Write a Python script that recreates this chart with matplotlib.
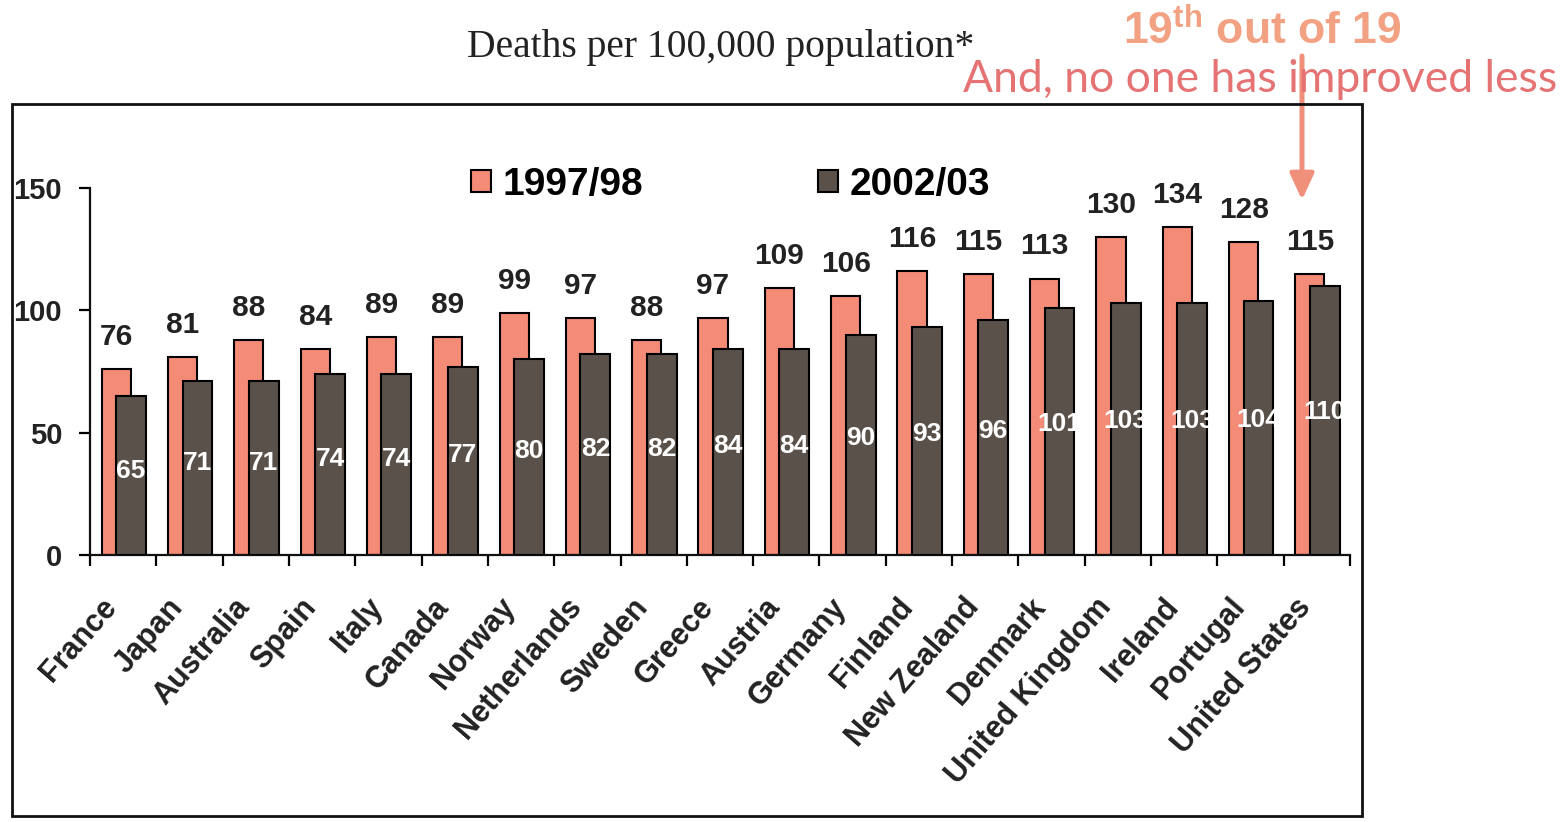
import numpy as np
import matplotlib
matplotlib.use("Agg")
import matplotlib.pyplot as plt
from matplotlib.patches import Rectangle, FancyArrowPatch
from matplotlib.transforms import ScaledTranslation

plt.rcParams['font.family'] = ['Liberation Sans', 'DejaVu Sans']
plt.rcParams['mathtext.fontset'] = 'custom'
plt.rcParams['mathtext.bf'] = 'Liberation Sans:bold'
plt.rcParams['mathtext.rm'] = 'Liberation Sans'

countries = ["France", "Japan", "Australia", "Spain", "Italy", "Canada", "Norway",
             "Netherlands", "Sweden", "Greece", "Austria", "Germany", "Finland",
             "New Zealand", "Denmark", "United Kingdom", "Ireland", "Portugal",
             "United States"]
v_1997 = [76, 81, 88, 84, 89, 89, 99, 97, 88, 97, 109, 106, 116, 115, 113, 130, 134, 128, 115]
v_2002 = [65, 71, 71, 74, 74, 77, 80, 82, 82, 84, 84, 90, 93, 96, 101, 103, 103, 104, 110]
series_labels = ["1997/98", "2002/03"]
y_ticks = [0, 50, 100, 150]

W, H = 1564, 822
salmon = '#F38B76'
dark = '#5A524A'

fig = plt.figure(figsize=(W / 100, H / 100), dpi=100)
ax = fig.add_axes([90 / W, 1 - 555 / H, (1350 - 90) / W, (555 - 188) / H])

x = np.arange(len(countries))
b1 = ax.bar(x - 0.105, v_1997, width=0.44, color=salmon, edgecolor='black', lw=1.5, zorder=2)
b2 = ax.bar(x + 0.12, v_2002, width=0.45, color=dark, edgecolor='black', lw=1.5, zorder=3)

for xi, v in zip(x, v_1997):
    ax.annotate(str(v), (xi - 0.105, v), xytext=(0, 13), textcoords='offset points',
                ha='center', va='bottom', fontsize=21.5, fontweight='bold', color='#222222',
                annotation_clip=False)
for xi, v in zip(x, v_2002):
    ax.text(xi + 0.12, 0.53 * v, str(v), ha='center', va='center', fontsize=19,
            fontweight='bold', color='white', zorder=4)

ax.set_xlim(-0.5, len(countries) - 0.5)
ax.set_ylim(0, 150)
for s in ['top', 'right']:
    ax.spines[s].set_visible(False)
for s in ['left', 'bottom']:
    ax.spines[s].set_linewidth(1.6)
    ax.spines[s].set_color('#111111')

ax.set_xticks(np.arange(-0.5, len(countries), 1))
ax.set_xticklabels([])
ax.tick_params(axis='x', which='major', direction='out', length=8, width=1.6)
ax.set_xticks(x, minor=True)
ax.set_xticklabels(countries, minor=True, rotation=49, ha='right', va='center',
                   rotation_mode='anchor', fontsize=22, fontweight='bold', color='#222222')
ax.tick_params(axis='x', which='minor', length=0, pad=34)
for lab in ax.get_xticklabels(minor=True):
    lab.set_transform(lab.get_transform() + ScaledTranslation(-8 / 72, 0, fig.dpi_scale_trans))

ax.set_yticks(y_ticks)
ax.set_yticklabels([str(t) for t in y_ticks], fontsize=21, fontweight='bold', color='#222222')
ax.tick_params(axis='y', direction='out', length=8, width=1.6, pad=12)

ax.legend([b1, b2], series_labels, loc='center left',
          bbox_to_anchor=(452 / W, 1 - 185 / H), bbox_transform=fig.transFigure,
          ncol=2, frameon=False, borderpad=0, handlelength=0.5, handleheight=0.5,
          handletextpad=0.3, columnspacing=4.5,
          prop={'family': 'Liberation Sans', 'weight': 'bold', 'size': 28})

fig.text(721 / W, 1 - 47 / H, 'Deaths per 100,000 population*', ha='center', va='center',
         family='Liberation Serif', fontsize=28.5, color='#222222')
fig.text(1262 / W, 1 - 31 / H, r'19$^{\mathbf{th}}$ out of 19', ha='center', va='center',
         fontsize=32, fontweight='bold', color='#F2A283')
fig.text(1260 / W, 1 - 79 / H, 'And, no one has improved less', ha='center', va='center',
         family='Lato', fontsize=32, color='#E57373')

fig.add_artist(FancyArrowPatch((1302 / W, 1 - 56 / H), (1302 / W, 1 - 200 / H),
                               transform=fig.transFigure,
                               arrowstyle='-|>,head_length=0.63,head_width=0.29',
                               mutation_scale=25, shrinkA=0, shrinkB=0,
                               color='#F0907A', lw=3.6))
fig.add_artist(Rectangle((12 / W, 1 - 816 / H), (1362 - 12) / W, (816 - 104) / H,
                         transform=fig.transFigure, fill=False, lw=2, ec='#111111'))

fig.savefig('out.png', dpi=100)
